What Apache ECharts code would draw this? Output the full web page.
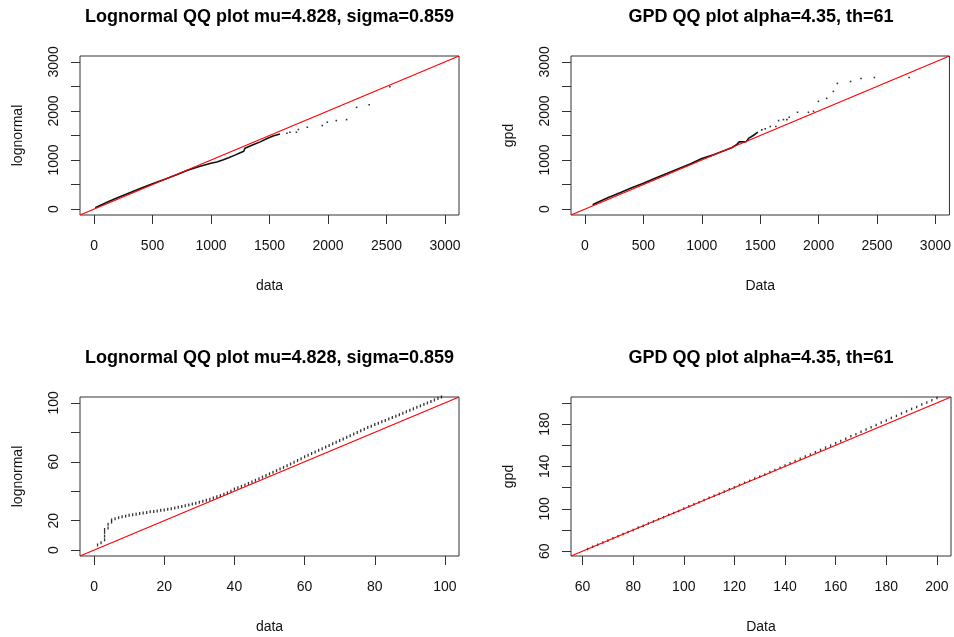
<!DOCTYPE html>
<html>
<head>
<meta charset="utf-8">
<script src="https://cdn.jsdelivr.net/npm/echarts@6/dist/echarts.min.js"></script>
<style>
html, body { margin: 0; padding: 0; background: #fff; }
#main { width: 954px; height: 637px; }
</style>
</head>
<body>
<div id="main"></div>
<script>
var FONT = 'Liberation Sans, Arial, sans-serif';

// titles
var titleLogn = 'Lognormal QQ plot mu=4.828, sigma=0.859';
var titleGpd = 'GPD QQ plot alpha=4.35, th=61';

// axis ranges (R extends the data range by 4%)
var rangeTop = [-120, 3120];
var rangeBL = [-4, 104];
var rangeBR = [55.44, 205.56];

// ticks / labels
var ticksTop = [0, 500, 1000, 1500, 2000, 2500, 3000];
var labelsTopY = [0, 1000, 2000, 3000];
var ticksBL = [0, 20, 40, 60, 80, 100];
var labelsBLY = [0, 20, 60, 100];
var ticksBR = [60, 80, 100, 120, 140, 160, 180, 200];
var labelsBRY = [60, 100, 140, 180];

// top-left: data vs lognormal quantiles (dense part and sparse tail)
var tlBodyX = [10, 60, 120, 200, 300, 400, 500, 600, 700, 800, 900, 1000, 1050, 1100, 1150, 1200, 1250, 1280, 1290, 1320, 1370, 1420, 1480, 1530, 1590];
var tlBodyY = [30, 85, 150, 230, 330, 425, 515, 605, 695, 790, 870, 935, 960, 1000, 1045, 1095, 1150, 1180, 1240, 1270, 1320, 1370, 1440, 1490, 1530];
var tlTailX = [1649, 1675, 1730, 1747, 1823, 1951, 1994, 2071, 2159, 2244, 2352, 2529];
var tlTailY = [1547, 1567, 1567, 1622, 1668, 1703, 1770, 1804, 1824, 2074, 2128, 2493];

// top-right: data vs gpd quantiles
var trBodyX = [65, 100, 200, 300, 400, 500, 600, 700, 800, 900, 1000, 1100, 1200, 1260, 1300, 1320, 1380, 1400, 1440, 1480];
var trBodyY = [90, 130, 235, 335, 435, 525, 630, 725, 825, 920, 1030, 1110, 1200, 1255, 1320, 1370, 1375, 1440, 1500, 1570];
var trTailX = [1514, 1543, 1586, 1634, 1657, 1699, 1728, 1748, 1819, 1913, 1956, 1998, 2069, 2126, 2160, 2274, 2363, 2477, 2775];
var trTailY = [1615, 1636, 1683, 1683, 1804, 1824, 1824, 1871, 1973, 1973, 1993, 2196, 2257, 2398, 2561, 2601, 2662, 2682, 2682];

// bottom-left: zoom on 0..100
var blX = [1, 2, 3, 3, 3, 3, 4, 4, 5, 5, 6, 7, 8, 9, 10, 11, 12, 13, 14, 15, 16, 17, 18, 19, 20,
  21, 22, 23, 24, 25, 26, 27, 28, 29, 30, 31, 32, 33, 34, 35, 36, 37, 38, 39, 40,
  41, 42, 43, 44, 45, 46, 47, 48, 49, 50, 51, 52, 53, 54, 55, 56, 57, 58, 59, 60,
  61, 62, 63, 64, 65, 66, 67, 68, 69, 70, 71, 72, 73, 74, 75, 76, 77, 78, 79, 80,
  81, 82, 83, 84, 85, 86, 87, 88, 89, 90, 91, 92, 93, 94, 95, 96, 97, 98, 99];
var blY = [3.5, 5, 7, 9.5, 12, 14, 15, 17.5, 19, 20.5, 21.3, 22, 22.6, 23.1, 23.6, 24, 24.4, 24.8, 25.2, 25.6, 26, 26.3, 26.6, 27, 27.3,
  27.7, 28.1, 28.6, 29.1, 29.6, 30.1, 30.7, 31.3, 31.9, 32.5, 33.2, 33.9, 34.6, 35.4, 36.2, 37, 37.9, 38.9, 40, 41.5,
  42.3, 43.3, 44.3, 45.3, 46.3, 47.4, 48.5, 49.6, 50.7, 51.8, 52.9, 54, 55.1, 56.2, 57.3, 58.5, 59.7, 60.9, 62.1, 63.4,
  64.5, 65.6, 66.7, 67.8, 68.9, 70, 71.1, 72.2, 73.3, 74.4, 75.5, 76.6, 77.7, 78.8, 79.9, 81, 82.1, 83.2, 84.2, 85.3,
  86.2, 87.2, 88.1, 89.1, 90, 91, 92, 93, 94, 95, 96, 97, 98, 99, 100, 101, 102, 103, 104];

// bottom-right: zoom on th=61..200
var brX = [62, 64, 66, 68, 70, 72, 74, 76, 78, 80, 82, 84, 86, 88, 90, 92, 94, 96, 98, 100,
  102, 104, 106, 108, 110, 112, 114, 116, 118, 120, 122, 124, 126, 128, 130, 132, 134, 136, 138, 140,
  142, 144, 146, 148, 150, 152, 154, 156, 158, 160, 162, 164, 166, 168, 170, 172, 174, 176, 178, 180,
  182, 184, 186, 188, 190, 192, 194, 196, 198, 200];
var brY = [62, 64.2, 66, 68.3, 70, 72.2, 74, 76.3, 78.1, 80, 82.3, 84, 86.2, 88.1, 90.2, 92, 94.3, 96.1, 98, 100.3,
  102.4, 104.2, 106.3, 108.2, 110.4, 112.3, 114.2, 116.4, 118.5, 120.3, 122.5, 124.6, 126.4, 128.7, 130.6, 132.5, 134.8, 136.7, 138.8, 140.9,
  143, 145.1, 147.2, 149.3, 151.2, 153.5, 155.6, 157.8, 159.7, 161.9, 164, 166.2, 168.4, 170.5, 172.8, 174.9, 177, 179.2, 181.5, 183.4,
  185.8, 187.7, 190, 192.1, 194.3, 196.2, 198.5, 200.4, 202.6, 204.5];

function pairs(xs, ys) {
  return xs.map(function (x, i) { return [x, ys[i]]; });
}

var grids = [
  { left: 80, top: 56, width: 379, height: 159 },
  { left: 571, top: 56, width: 380, height: 159 },
  { left: 80, top: 397, width: 379, height: 159 },
  { left: 571, top: 397, width: 380, height: 159 }
];
grids.forEach(function (g) {
  g.show = true;
  g.borderColor = '#333';
  g.borderWidth = 1;
  g.backgroundColor = 'transparent';
});

function axis(gi, range, ticks, labels, name, isY) {
  return {
    type: 'value', gridIndex: gi, min: range[0], max: range[1],
    name: name, nameLocation: 'middle', nameGap: isY ? 55 : 64,
    nameTextStyle: { fontSize: 14, color: '#111', fontFamily: FONT },
    axisLine: { show: false, onZero: false },
    axisTick: { show: true, length: 9, customValues: ticks, lineStyle: { color: '#333', width: 1 } },
    axisLabel: { customValues: labels, rotate: isY ? 90 : 0, margin: isY ? 19 : 24,
      formatter: function (v) { return String(v); },
      fontSize: 14, color: '#111', fontFamily: FONT },
    splitLine: { show: false }
  };
}

function points(gi, data, size) {
  return { type: 'scatter', xAxisIndex: gi, yAxisIndex: gi, data: data,
    symbol: 'rect', symbolSize: size, itemStyle: { color: '#000' }, silent: true };
}
function body(gi, data) {
  return { type: 'line', xAxisIndex: gi, yAxisIndex: gi, data: data, showSymbol: false,
    lineStyle: { color: '#111', width: 1.6 }, silent: true };
}
function abline(gi, range) {
  return { type: 'line', xAxisIndex: gi, yAxisIndex: gi, data: [[range[0], range[0]], [range[1], range[1]]],
    showSymbol: false, lineStyle: { color: '#ff0000', width: 1.2 }, silent: true, z: 5 };
}

var titleStyle = { fontSize: 18, fontWeight: 'bold', color: '#000', fontFamily: FONT };

var option = {
  animation: false,
  backgroundColor: '#fff',
  title: [
    { text: titleLogn, left: 269.5, top: 8, textAlign: 'center', padding: 0, textStyle: titleStyle },
    { text: titleGpd, left: 761, top: 8, textAlign: 'center', padding: 0, textStyle: titleStyle },
    { text: titleLogn, left: 269.5, top: 349, textAlign: 'center', padding: 0, textStyle: titleStyle },
    { text: titleGpd, left: 761, top: 349, textAlign: 'center', padding: 0, textStyle: titleStyle }
  ],
  grid: grids,
  xAxis: [
    axis(0, rangeTop, ticksTop, ticksTop, 'data', false),
    axis(1, rangeTop, ticksTop, ticksTop, 'Data', false),
    axis(2, rangeBL, ticksBL, ticksBL, 'data', false),
    axis(3, rangeBR, ticksBR, ticksBR, 'Data', false)
  ],
  yAxis: [
    axis(0, rangeTop, ticksTop, labelsTopY, 'lognormal', true),
    axis(1, rangeTop, ticksTop, labelsTopY, 'gpd', true),
    axis(2, rangeBL, ticksBL, labelsBLY, 'lognormal', true),
    axis(3, rangeBR, ticksBR, labelsBRY, 'gpd', true)
  ],
  series: [
    body(0, pairs(tlBodyX, tlBodyY)),
    points(0, pairs(tlTailX, tlTailY), 1.6),
    abline(0, rangeTop),
    body(1, pairs(trBodyX, trBodyY)),
    points(1, pairs(trTailX, trTailY), 1.6),
    abline(1, rangeTop),
    points(2, pairs(blX, blY), [1.3, 3]),
    abline(2, rangeBL),
    points(3, pairs(brX, brY), [1.3, 2.5]),
    abline(3, rangeBR)
  ]
};

var chart = echarts.init(document.getElementById('main'));
chart.setOption(option);
</script>
</body>
</html>
